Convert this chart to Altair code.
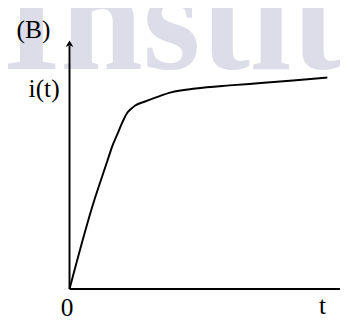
import altair as alt
import pandas as pd

# curve values (arbitrary units: t, i)
t_vals = [0.0, 0.973, 1.223, 1.477, 1.667, 1.856, 2.045, 2.235, 2.36, 2.55, 2.93, 3.44, 3.94, 4.89, 6.21, 7.42, 8.67, 10.0]
i_vals = [0.0, 4.24, 5.16, 6.08, 6.77, 7.31, 7.85, 8.31, 8.47, 8.66, 8.85, 9.08, 9.28, 9.46, 9.61, 9.72, 9.84, 9.98]

# axis extents
axis_x0 = [0.0, 0.0]
axis_y0 = [0.0, 0.0]
axis_x1 = [0.0, 10.49]
axis_y1 = [11.5, 0.0]

# labels
label_text = ["(B)", "i(t)", "0", "t"]
label_t = [-1.40, -0.985, -0.095, 9.81]
label_i = [11.85, 9.05, -1.29, -1.20]

watermark_text = ["Institute"]
watermark_t = [-2.60]
watermark_i = [10.36]

xs = alt.Scale(domain=[-2.386, 10.492], nice=False, zero=False)
ys = alt.Scale(domain=[-1.382, 13.088], nice=False, zero=False)

df_curve = pd.DataFrame({"t": t_vals, "i": i_vals})
df_axes = pd.DataFrame({"x": axis_x0, "y": axis_y0, "x2": axis_x1, "y2": axis_y1})
df_labels = pd.DataFrame({"label": label_text, "t": label_t, "i": label_i})
df_wm = pd.DataFrame({"label": watermark_text, "t": watermark_t, "i": watermark_i})
df_arrow = pd.DataFrame({"t": [0.0], "i": [11.55]})

watermark = alt.Chart(df_wm).mark_text(
    font="Liberation Serif", fontWeight="bold", fontSize=152,
    align="left", baseline="alphabetic", color="#dcdde8"
).encode(
    x=alt.X("t:Q", scale=xs, axis=None),
    y=alt.Y("i:Q", scale=ys, axis=None),
    text="label:N",
)

axes = alt.Chart(df_axes).mark_rule(color="black", strokeWidth=2).encode(
    x=alt.X("x:Q", scale=xs, axis=None),
    y=alt.Y("y:Q", scale=ys, axis=None),
    x2="x2:Q",
    y2="y2:Q",
)

arrow = alt.Chart(df_arrow).mark_point(
    shape="M0,-1L-1,0.7L0,0.25L1,0.7Z", size=64, filled=True,
    color="black", opacity=1, strokeWidth=0
).encode(
    x=alt.X("t:Q", scale=xs, axis=None),
    y=alt.Y("i:Q", scale=ys, axis=None),
)

curve = alt.Chart(df_curve).mark_line(
    color="black", strokeWidth=2, interpolate="monotone"
).encode(
    x=alt.X("t:Q", scale=xs, axis=None),
    y=alt.Y("i:Q", scale=ys, axis=None),
    order="t:Q",
)

labels = alt.Chart(df_labels).mark_text(
    font="Liberation Serif", fontSize=26, align="center",
    baseline="alphabetic", color="black"
).encode(
    x=alt.X("t:Q", scale=xs, axis=None),
    y=alt.Y("i:Q", scale=ys, axis=None),
    text="label:N",
)

chart = alt.layer(watermark, axes, arrow, curve, labels).properties(
    width=340, height=314, padding=0,
    autosize=alt.AutoSizeParams(type="none"),
).configure_view(stroke=None)

chart.save("out.html", embed_options={"renderer": "svg", "actions": False})
